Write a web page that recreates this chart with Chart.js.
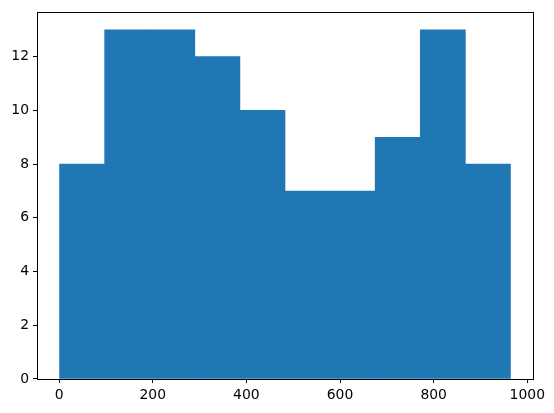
<!DOCTYPE html>
<html>
<head>
<meta charset="utf-8">
<script src="https://cdn.jsdelivr.net/npm/chart.js@4/dist/chart.umd.min.js"></script>
<style>
  html, body { margin: 0; padding: 0; background: #fff; }
  #wrap { width: 554px; height: 413px; }
</style>
</head>
<body>
<div id="wrap"><canvas id="hist"></canvas></div>
<script>
// Histogram data (bin edges and counts)
const binEdges = [1, 97.3, 193.6, 289.9, 386.2, 482.5, 578.8, 675.1, 771.4, 867.7, 964];
const counts = [8, 13, 13, 12, 10, 7, 7, 9, 13, 8];
const xTicks = [0, 200, 400, 600, 800, 1000];
const yTicks = [0, 2, 4, 6, 8, 10, 12];

const points = counts.map((c, i) => ({ x: (binEdges[i] + binEdges[i + 1]) / 2, y: c }));

// draw all four spines like matplotlib
const framePlugin = {
    id: 'frame',
    afterDraw(chart) {
        const a = chart.chartArea;
        const ctx = chart.ctx;
        ctx.save();
        ctx.strokeStyle = '#000';
        ctx.lineWidth = 1;
        ctx.strokeRect(Math.round(a.left) + 0.5, Math.round(a.top) + 0.5,
            Math.round(a.right - a.left), Math.round(a.bottom - a.top));
        ctx.restore();
    }
};

const tickFont = { family: 'DejaVu Sans', size: 13.9 };

new Chart(document.getElementById('hist').getContext('2d'), {
    type: 'bar',
    data: {
        datasets: [{
            data: points,
            backgroundColor: '#1f77b4',
            borderWidth: 0,
            barPercentage: 1,
            categoryPercentage: 1
        }]
    },
    options: {
        responsive: true,
        maintainAspectRatio: false,
        animation: false,
        layout: { padding: { top: 10, right: 21, left: 0, bottom: 0 } },
        plugins: { legend: { display: false }, tooltip: { enabled: false } },
        scales: {
            x: {
                type: 'linear',
                offset: false,
                min: -47.2,
                max: 1012.2,
                afterBuildTicks: s => { s.ticks = xTicks.map(v => ({ value: v })); },
                afterFit: s => { s.height = 34; },
                grid: { offset: false, drawOnChartArea: false, drawTicks: true, tickLength: 4, color: '#000' },
                border: { display: false },
                ticks: { autoSkip: false, maxRotation: 0, padding: 4, color: '#000', font: tickFont,
                    callback: v => String(v) }
            },
            y: {
                min: 0,
                max: 13.65,
                afterBuildTicks: s => { s.ticks = yTicks.map(v => ({ value: v })); },
                afterFit: s => { s.width = 37; },
                grid: { drawOnChartArea: false, drawTicks: true, tickLength: 4, color: '#000' },
                border: { display: false },
                ticks: { padding: 4, color: '#000', font: tickFont }
            }
        }
    },
    plugins: [framePlugin]
});
</script>
</body>
</html>
